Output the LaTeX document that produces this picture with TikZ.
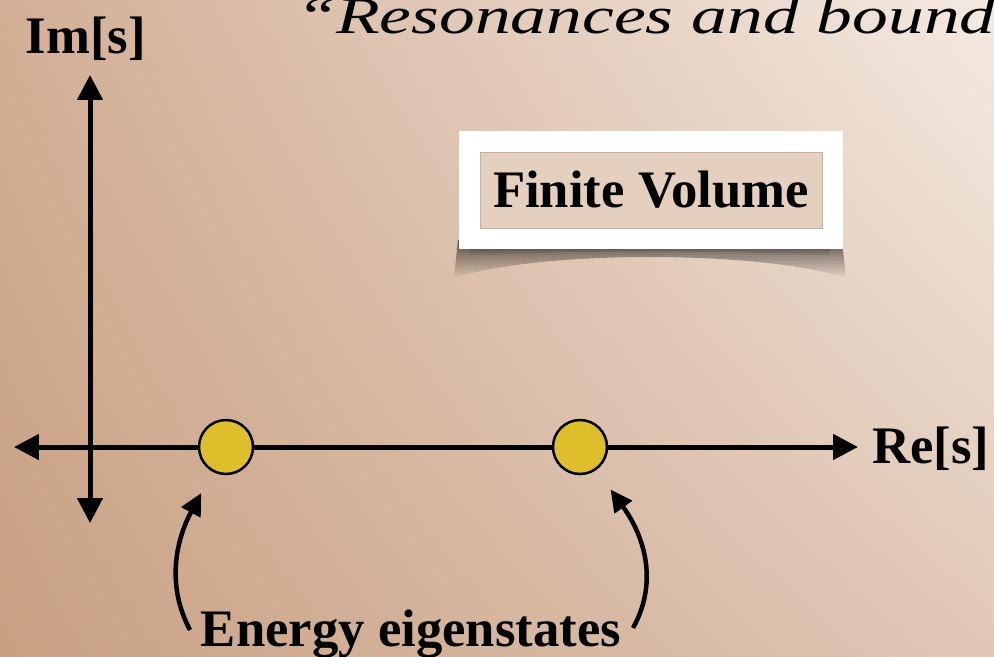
\documentclass[tikz,border=0pt]{standalone}
\usepackage{fontspec}
\setmainfont{Liberation Serif}
\newfontfamily\titlefont[FakeStretch=1.38]{Liberation Serif}
\usetikzlibrary{arrows.meta,shadings,fadings}

\definecolor{bgtl}{RGB}{210,174,149}
\definecolor{bgtr}{RGB}{244,234,226}
\definecolor{bgbl}{RGB}{200,160,130}
\definecolor{bgbr}{RGB}{224,200,182}
\definecolor{dotyellow}{RGB}{222,190,42}
\definecolor{fvfill}{RGB}{229,208,192}

\tikzset{
  axisline/.style={line width=0.1cm, {Triangle[length=0.5cm,width=0.5cm]}-{Triangle[length=0.5cm,width=0.5cm]}},
  bendarrow/.style={line width=0.09cm, -{Triangle[length=0.44cm,width=0.42cm]}, shorten >=0.48cm},
  axislabel/.style={font=\fontsize{30}{36}\selectfont\bfseries, inner sep=0pt},
  eigen/.style={circle, draw=black, line width=0.05cm, fill=dotyellow, minimum size=1.08cm, inner sep=0pt},
  fvbox/.style={fill=fvfill, draw=fvfill!85!black, line width=0.3pt, minimum width=6.84cm, minimum height=1.52cm,
    font=\fontsize{30}{36}\selectfont\bfseries, preaction={draw=white, line width=0.84cm}},
}

\begin{document}
\begin{tikzpicture}[x=0.02cm, y=-0.02cm]

% background
\clip (0,0) rectangle (994,656);
\shade[upper left=bgtl, upper right=bgtr, lower left=bgbl, lower right=bgbr] (0,0) rectangle (994,656);

% title (cut at the right edge)
\node[anchor=base west, inner sep=0pt, font=\titlefont\itshape\fontsize{29.5}{34}\selectfont] (title) at (296,33) {“Resonances and bound};

% axes
\coordinate (xleft) at (14,447);
\coordinate (xright) at (858,447);
\coordinate (ytop) at (90,75);
\coordinate (ybottom) at (90,523);
\draw[axisline] (ybottom) -- (ytop);
\draw[axisline] (xleft) -- (xright);

\node[axislabel, anchor=base] (im) at (86,53) {Im[s]};
\node[axislabel, anchor=base west] (re) at (872,463) {Re[s]};

% finite volume box with curled shadow
\fill[black, opacity=0.6, path fading=south] (458,240) -- (842,240) -- (846,278) .. controls (760,250) and (540,250) .. (454,278) -- cycle;
\fill[black, opacity=0.35, path fading=south] (470,240) -- (830,240) -- (830,256) .. controls (740,250) and (560,250) .. (470,256) -- cycle;
\node[fvbox] (fv) at (651,190) {Finite Volume};

% eigenstates
\node[eigen] (e1) at (226,447) {};
\node[eigen] (e2) at (580,447) {};

\node[axislabel, anchor=base] (ev) at (411,646) {Energy eigenstates};
\coordinate (s1) at (190,630);
\coordinate (s2) at (633,628);
\draw[bendarrow] (s1) .. controls (166,585) and (176,540) .. (e1);
\draw[bendarrow] (s2) .. controls (657,585) and (647,540) .. (e2);

\end{tikzpicture}
\end{document}
